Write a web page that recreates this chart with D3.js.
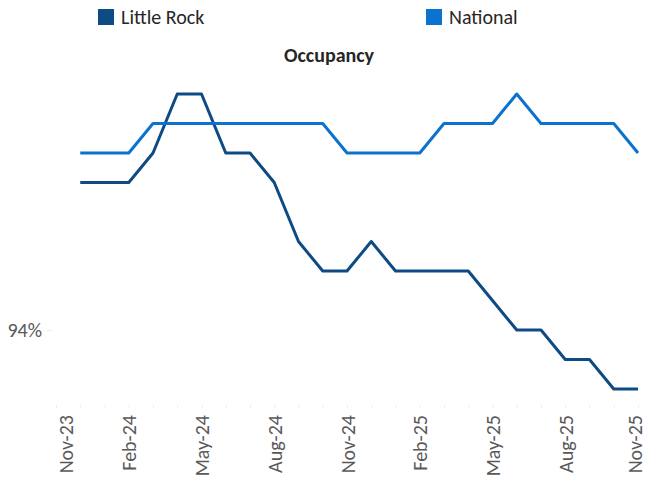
<!DOCTYPE html>
<html>
<head>
<meta charset="utf-8">
<script src="https://cdn.jsdelivr.net/npm/d3@7"></script>
<style>
  body { margin: 0; background: #fff; }
  svg { display: block; font-family: Carlito, Calibri, Lato, sans-serif; }
</style>
</head>
<body>
<div id="chart"></div>
<script>
// months on the axis, Nov-23 .. Nov-25
var months = ['Nov-23', 'Dec-23', 'Jan-24', 'Feb-24', 'Mar-24', 'Apr-24', 'May-24', 'Jun-24',
    'Jul-24', 'Aug-24', 'Sep-24', 'Oct-24', 'Nov-24', 'Dec-24', 'Jan-25', 'Feb-25', 'Mar-25',
    'Apr-25', 'May-25', 'Jun-25', 'Jul-25', 'Aug-25', 'Sep-25', 'Oct-25', 'Nov-25']
var labelMonths = ['Nov-23', 'Feb-24', 'May-24', 'Aug-24', 'Nov-24', 'Feb-25', 'May-25', 'Aug-25', 'Nov-25']

// data starts Dec-23
var dataMonths = months.slice(1)
var littleRock = [94.5, 94.5, 94.5, 94.6, 94.8, 94.8, 94.6, 94.6, 94.5, 94.3, 94.2, 94.2,
    94.3, 94.2, 94.2, 94.2, 94.2, 94.1, 94.0, 94.0, 93.9, 93.9, 93.8, 93.8]
var national = [94.6, 94.6, 94.6, 94.7, 94.7, 94.7, 94.7, 94.7, 94.7, 94.7, 94.7, 94.6,
    94.6, 94.6, 94.6, 94.7, 94.7, 94.7, 94.8, 94.7, 94.7, 94.7, 94.7, 94.6]
var yTicks = [94]

var seriesNames = ['Little Rock', 'National']
var colors = ['#0e4a84', '#0b72cf']

var svgWidth = 646,
    svgHeight = 480

var svg = d3.select('#chart').append('svg')
    .attr('width', svgWidth)
    .attr('height', svgHeight)

var xScale = d3.scalePoint()
    .domain(months)
    .range([56, 638])

var yScale = d3.scaleLinear()
    .domain([93.74, 94.9])
    .range([406.7, 64.5])

// x axis: tick every month, label every quarter
var xAxis = svg.append('g')
    .attr('transform', 'translate(0,405)')
    .call(d3.axisBottom(xScale)
        .tickSize(3)
        .tickFormat(d => labelMonths.includes(d) ? d : ''))
xAxis.select('.domain').remove()
xAxis.selectAll('line').attr('stroke', '#ededed')
xAxis.selectAll('text')
    .attr('transform', 'rotate(-90)')
    .attr('x', -10)
    .attr('y', 0)
    // first label sits right of its tick, last one is kept inside the edge
    .attr('dy', d => d === 'Nov-23' ? '0.8em' : d === 'Nov-25' ? '0.15em' : '0.35em')
    .style('text-anchor', 'end')
    .style('font-size', '20px')
    .style('font-family', 'Carlito, Calibri, Lato, sans-serif')
    .attr('fill', '#595959')

// y axis, only one label
var yAxis = svg.append('g')
    .attr('transform', 'translate(52,0)')
    .call(d3.axisLeft(yScale)
        .tickValues(yTicks)
        .tickSize(5)
        .tickPadding(5)
        .tickFormat(d => d + '%'))
yAxis.select('.domain').remove()
yAxis.selectAll('line').attr('stroke', '#ededed')
yAxis.selectAll('text')
    .style('font-size', '20px')
    .style('font-family', 'Carlito, Calibri, Lato, sans-serif')
    .attr('fill', '#595959')

// lines
var line = d3.line()
    .x((d, i) => xScale(dataMonths[i]))
    .y(d => yScale(d))

;[littleRock, national].forEach((values, i) => {
    svg.append('path')
        .datum(values)
        .attr('fill', 'none')
        .attr('stroke', colors[i])
        .attr('stroke-width', 3)
        .attr('stroke-linejoin', 'round')
        .attr('d', line)
})

// title
svg.append('text')
    .attr('x', 329)
    .attr('y', 62)
    .attr('text-anchor', 'middle')
    .style('font-size', '20px')
    .style('font-weight', 'bold')
    .attr('fill', '#262626')
    .text('Occupancy')

// legend
var legendX = [98, 426]
var legend = svg.selectAll('.legend')
    .data(seriesNames)
    .enter().append('g')
    .attr('class', 'legend')
    .attr('transform', (d, i) => 'translate(' + legendX[i] + ',9)')
legend.append('rect')
    .attr('width', 16)
    .attr('height', 16)
    .attr('fill', (d, i) => colors[i])
legend.append('text')
    .attr('x', 23)
    .attr('y', 15)
    .style('font-size', '20px')
    .attr('fill', '#262626')
    .text(d => d)
</script>
</body>
</html>
